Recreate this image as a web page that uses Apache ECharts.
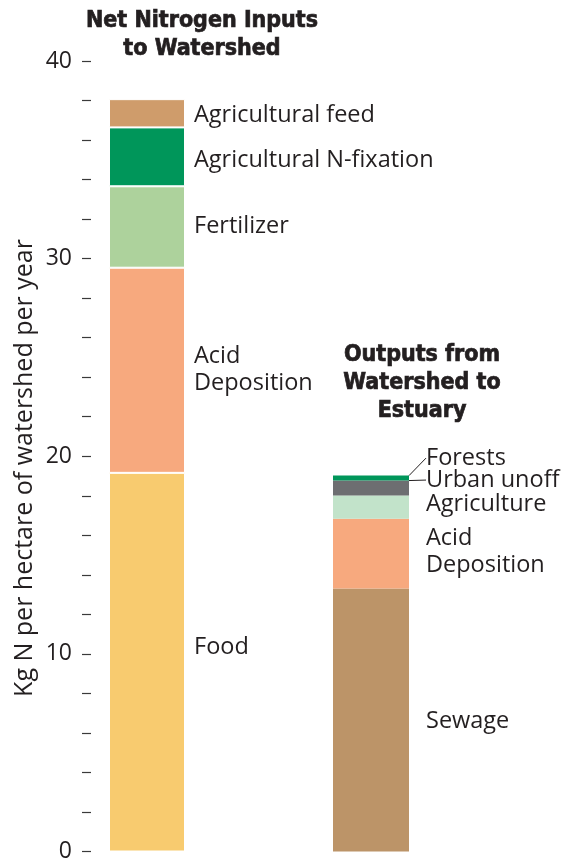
<!DOCTYPE html>
<html><head><meta charset="utf-8">
<script src="https://cdn.jsdelivr.net/npm/echarts@6/dist/echarts.min.js"></script>
<style>html,body{margin:0;padding:0;background:#fff}#c{width:574px;height:863px}</style>
</head><body><div id="c"></div>
<script>
const categories = ['Inputs', 'Outputs'];
const inputNames = ['Food', 'Acid\nDeposition', 'Fertilizer', 'Agricultural N-fixation', 'Agricultural feed'];
const inputValues = [19.16, 10.38, 4.12, 2.98, 1.43];
const inputColors = ['#F8CB6F', '#F7A97E', '#ADD29C', '#00965A', '#CF9C6B'];
const outputNames = ['Sewage', 'Acid\nDeposition', 'Agriculture', 'Urban unoff', 'Forests'];
const outputValues = [13.31, 3.53, 1.17, 0.76, 0.25];
const outputColors = ['#BC9468', '#F7A97E', '#C2E3CA', '#6D6E71', '#00965A'];
const yTicks = [0, 10, 20, 30, 40];

const FONT = 'Open Sans';
const labelDyIn = [-15, 0, -1, 3, 2];
const labelDyOut = [1, -2, -3, -8, -20];

const series = [];
inputValues.forEach((v, i) => {
  series.push({
    name: inputNames[i], type: 'bar', stack: 'all', barWidth: 76,
    data: [v, '-'],
    itemStyle: { color: inputColors[i], borderColor: '#fff', borderWidth: 1 },
    label: { show: true, position: 'right', distance: 9, formatter: inputNames[i],
      fontFamily: FONT, fontSize: 23.5, color: '#231F20', lineHeight: 27, offset: [0, labelDyIn[i]] },
    emphasis: { disabled: true }
  });
});
outputValues.forEach((v, i) => {
  const s = {
    name: outputNames[i], type: 'bar', stack: 'all', barWidth: 76,
    data: ['-', v],
    itemStyle: { color: outputColors[i] },
    label: { show: true, position: 'right', distance: 17, formatter: outputNames[i],
      fontFamily: FONT, fontSize: 23.5, color: '#231F20', lineHeight: 27 },
    emphasis: { disabled: true }
  };
  if (i >= 3) {
    s.labelLayout = { dy: labelDyOut[i] };
    s.labelLine = { show: true, length2: 2, minTurnAngle: 180, lineStyle: { color: '#231F20', width: 1 } };
  } else {
    s.label.offset = [0, labelDyOut[i]];
  }
  series.push(s);
});

const titleStyle = { fontFamily: 'DejaVu Sans Condensed', fontWeight: 'bold', fontSize: 23, lineHeight: 28,
  color: '#231F20', textBorderColor: '#231F20', textBorderWidth: 0.7 };

const chart = echarts.init(document.getElementById('c'));
chart.setOption({
  animation: false,
  title: [
    { text: 'Net Nitrogen Inputs\nto Watershed', left: 197, top: 2, textAlign: 'center', textStyle: titleStyle },
    { text: 'Outputs from\nWatershed to\nEstuary', left: 417, top: 336, textAlign: 'center', textStyle: titleStyle }
  ],
  grid: { left: 35, right: 91, top: 61, bottom: 11 },
  xAxis: { type: 'category', data: categories, show: false },
  yAxis: {
    type: 'value', min: 0, max: 40, interval: 10, offset: -56,
    axisLine: { show: false },
    axisTick: { show: true, length: 9, lineStyle: { color: '#3a3a3a', width: 1.2 } },
    minorTick: { show: true, splitNumber: 5, length: 9, lineStyle: { color: '#3a3a3a', width: 1.2 } },
    splitLine: { show: false },
    axisLabel: { margin: 19, fontFamily: FONT, fontSize: 23, color: '#231F20',
      formatter: v => yTicks.includes(v) ? String(v) : '' }
  },
  graphic: [{
    type: 'text', x: 25, y: 468, rotation: Math.PI / 2,
    style: { text: 'Kg N per hectare of watershed per year', fontFamily: FONT, fontSize: 25,
      fill: '#231F20', align: 'center', verticalAlign: 'middle' }
  }],
  series
});
</script></body></html>
